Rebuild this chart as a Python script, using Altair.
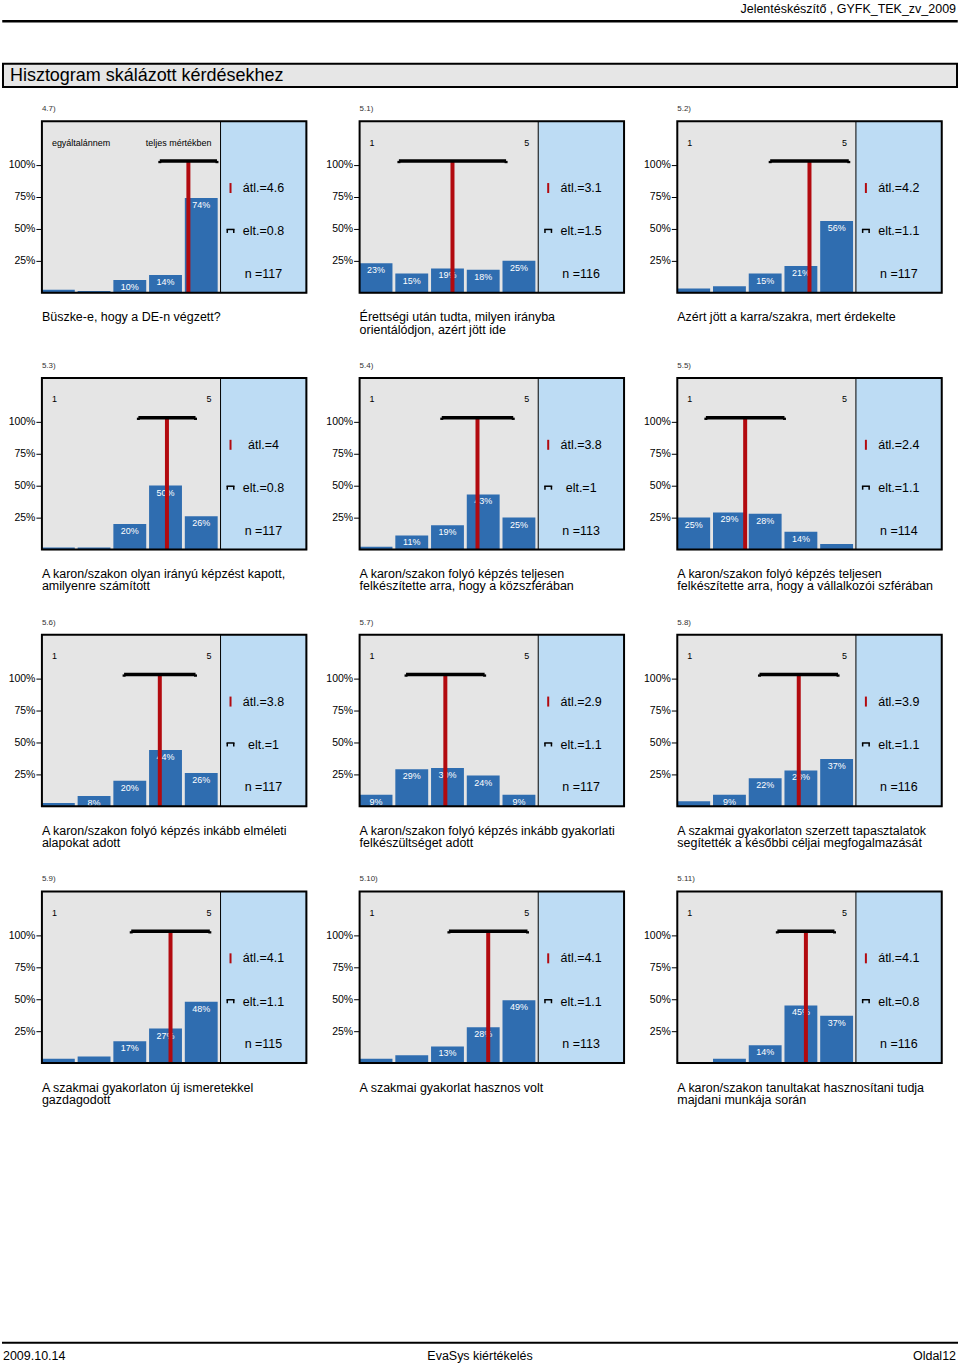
import altair as alt
import pandas as pd

# ---------------- data ----------------
panel_ids = ["4.7)", "5.1)", "5.2)", "5.3)", "5.4)", "5.5)",
             "5.6)", "5.7)", "5.8)", "5.9)", "5.10)", "5.11)"]
questions = [
    "Büszke-e, hogy a DE-n végzett?",
    "Érettségi után tudta, milyen irányba\norientálódjon, azért jött ide",
    "Azért jött a karra/szakra, mert érdekelte",
    "A karon/szakon olyan irányú képzést kapott,\namilyenre számított",
    "A karon/szakon folyó képzés teljesen\nfelkészítette arra, hogy a közszférában",
    "A karon/szakon folyó képzés teljesen\nfelkészítette arra, hogy a vállalkozói szférában",
    "A karon/szakon folyó képzés inkább elméleti\nalapokat adott",
    "A karon/szakon folyó képzés inkább gyakorlati\nfelkészültséget adott",
    "A szakmai gyakorlaton szerzett tapasztalatok\nsegítették a későbbi céljai megfogalmazását",
    "A szakmai gyakorlaton új ismeretekkel\ngazdagodott",
    "A szakmai gyakorlat hasznos volt",
    "A karon/szakon tanultakat hasznosítani tudja\nmajdani munkája során",
]
left_labels = ["egyáltalánnem"] + ["1"] * 11
right_labels = ["teljes mértékben"] + ["5"] * 11
categories = [1, 2, 3, 4, 5]
distributions = [  # percent per answer category
    [2.3, 1.5, 10, 14, 74],
    [23, 15, 19, 18, 25],
    [3.4, 5.1, 15, 21, 56],
    [1.7, 1.7, 20, 50, 26],
    [2.3, 11, 19, 43, 25],
    [25, 29, 28, 14, 4.4],
    [2.6, 8, 20, 44, 26],
    [9, 29, 30, 24, 9],
    [3.9, 9, 22, 28, 37],
    [3.5, 5.2, 17, 27, 48],
    [3.5, 6.2, 13, 28, 49],
    [0.9, 3.4, 14, 45, 37],
]
means = [4.6, 3.1, 4.2, 4, 3.8, 2.4, 3.8, 2.9, 3.9, 4.1, 4.1, 4.1]
sds = [0.8, 1.5, 1.1, 0.8, 1, 1.1, 1, 1.1, 1.1, 1.1, 1.1, 0.8]
ns = [117, 116, 117, 117, 113, 114, 117, 117, 116, 115, 113, 116]

header_text = "Jelentéskészítő , GYFK_TEK_zv_2009"
page_title = "Hisztogram skálázott kérdésekhez"
footer_left = "2009.10.14"
footer_center = "EvaSys kiértékelés"
footer_right = "Oldal12"

# ---------------- styles / layout ----------------
FONT = "Liberation Sans"
GREY = "#e5e5e5"
LIGHTBLUE = "#bddcf4"
BAR = "#2f6db0"
RED = "#b20a0f"

W, H = 265, 172
UNIT = 35.8
X_MIN, X_SPLIT = 0.5, 5.5
X_MAX = X_MIN + W / UNIT
Y_MAX = 1.34
BRACKET_Y = 1.03
HOOK_Y = 1.012
BAR_RIGHT = 0.42

xs = alt.Scale(domain=[X_MIN, X_MAX], nice=False, zero=False)
ys = alt.Scale(domain=[0, Y_MAX], nice=False, zero=False)
yaxis = alt.Axis(values=[0.25, 0.5, 0.75, 1.0], format=".0%", tickSize=6,
                 tickColor="black", tickWidth=1, labelFontSize=10.5,
                 labelColor="black", labelPadding=1, domain=False, grid=False,
                 labelFont=FONT, title=None)


def page_layers(base):
    # page decorations drawn relative to first panel's plot origin (41, 119.5)
    return [
        base.mark_rect(fillOpacity=0, strokeOpacity=0).encode(
            x=alt.value(-41), x2=alt.value(919), y=alt.value(-119.5), y2=alt.value(1248.5)),
        base.mark_text(text=header_text, align="right", baseline="middle",
                       fontSize=12.5, font=FONT, color="black").encode(
            x=alt.value(916), y=alt.value(-112)),
        base.mark_rule(color="black", strokeWidth=2.5).encode(
            x=alt.value(-39.75), x2=alt.value(917.75), y=alt.value(-100.2)),
        base.mark_rect(fill="#e6e6e6", stroke="black", strokeWidth=2).encode(
            x=alt.value(-39), x2=alt.value(917), y=alt.value(-57.5), y2=alt.value(-34.2)),
        base.mark_text(text=page_title, align="left", baseline="middle",
                       fontSize=18, font=FONT, color="black").encode(
            x=alt.value(-32), y=alt.value(-45.5)),
        base.mark_rule(color="black", strokeWidth=2).encode(
            x=alt.value(-40), x2=alt.value(918), y=alt.value(1224)),
        base.mark_text(text=footer_left, align="left", baseline="middle",
                       fontSize=12.5, font=FONT, color="black").encode(
            x=alt.value(-39), y=alt.value(1237.5)),
        base.mark_text(text=footer_center, align="center", baseline="middle",
                       fontSize=12.5, font=FONT, color="black").encode(
            x=alt.value(439), y=alt.value(1237.5)),
        base.mark_text(text=footer_right, align="right", baseline="middle",
                       fontSize=12.5, font=FONT, color="black").encode(
            x=alt.value(916), y=alt.value(1237.5)),
    ]


def panel(i):
    bars = pd.DataFrame({"cat": categories, "pct": [v / 100 for v in distributions[i]]})
    stat = pd.DataFrame({"mean": [means[i]], "sd": [sds[i]], "n": [ns[i]],
                         "left": [left_labels[i]], "right": [right_labels[i]],
                         "pid": [panel_ids[i]], "q": [questions[i]]})
    base = alt.Chart(stat)
    bbase = alt.Chart(bars)

    def yd(v):
        return alt.YDatum(v, type="quantitative", scale=ys, axis=yaxis, title=None)

    grey = base.mark_rect(color=GREY).encode(
        x=alt.XDatum(X_MIN, type="quantitative", scale=xs, axis=None),
        x2=alt.X2Datum(X_SPLIT), y=yd(0), y2=alt.Y2Datum(Y_MAX))
    blue = base.mark_rect(color=LIGHTBLUE).encode(
        x=alt.XDatum(X_SPLIT, type="quantitative", scale=xs, axis=None),
        x2=alt.X2Datum(X_MAX), y=yd(0), y2=alt.Y2Datum(Y_MAX))

    bar_layer = bbase.transform_calculate(
        x0="datum.cat - 0.5", x1=f"datum.cat + {BAR_RIGHT}"
    ).mark_rect(color=BAR).encode(
        x=alt.X("x0:Q", scale=xs, axis=None), x2="x1:Q",
        y=alt.Y("pct:Q", scale=ys, axis=yaxis, title=None), y2=alt.Y2Datum(0))

    labels = bbase.transform_filter("datum.pct >= 0.075").transform_calculate(
        xc=f"datum.cat - 0.5 + {(0.5 + BAR_RIGHT) / 2}"
    ).mark_text(color="white", fontSize=9, font=FONT, baseline="middle", dy=7).encode(
        x=alt.X("xc:Q", scale=xs, axis=None),
        y=alt.Y("pct:Q", scale=ys, axis=yaxis, title=None),
        text=alt.Text("pct:Q", format=".0%"))

    mean_line = base.mark_rule(color=RED, strokeWidth=4).encode(
        x=alt.X("mean:Q", scale=xs, axis=None),
        y=yd(0), y2=alt.Y2Datum(BRACKET_Y))

    sd_base = base.transform_calculate(lo="datum.mean - datum.sd", hi="datum.mean + datum.sd")
    bracket = sd_base.mark_rule(color="black", strokeWidth=3.5).encode(
        x=alt.X("lo:Q", scale=xs, axis=None), x2="hi:Q", y=yd(BRACKET_Y))
    hook_l = sd_base.mark_rule(color="black", strokeWidth=3).encode(
        x=alt.X("lo:Q", scale=xs, axis=None), y=yd(BRACKET_Y), y2=alt.Y2Datum(HOOK_Y))
    hook_r = sd_base.mark_rule(color="black", strokeWidth=3).encode(
        x=alt.X("hi:Q", scale=xs, axis=None), y=yd(BRACKET_Y), y2=alt.Y2Datum(HOOK_Y))

    divider = base.mark_rule(color="black", strokeWidth=1).encode(
        x=alt.XDatum(X_SPLIT, type="quantitative", scale=xs, axis=None),
        y=alt.value(0), y2=alt.value(H))

    top_left = base.mark_text(align="left", baseline="middle", fontSize=9,
                              font=FONT, color="black").encode(
        x=alt.value(10), y=alt.value(21.5), text="left:N")
    top_right = base.mark_text(align="right", baseline="middle", fontSize=9,
                               font=FONT, color="black").encode(
        x=alt.value(170), y=alt.value(21.5), text="right:N")

    mean_mark = base.mark_rule(color=RED, strokeWidth=2).encode(
        x=alt.value(189), y=alt.value(62), y2=alt.value(72))
    mean_text = base.transform_calculate(t="'átl.=' + datum.mean").mark_text(
        align="center", baseline="middle", fontSize=12.5, font=FONT, color="black").encode(
        x=alt.value(222), y=alt.value(67), text="t:N")

    sd_g1 = base.mark_rule(color="black", strokeWidth=1.5).encode(
        x=alt.value(185), x2=alt.value(193), y=alt.value(108.5))
    sd_g2 = base.mark_rule(color="black", strokeWidth=1.5).encode(
        x=alt.value(185.75), y=alt.value(108.5), y2=alt.value(112))
    sd_g3 = base.mark_rule(color="black", strokeWidth=1.5).encode(
        x=alt.value(192.25), y=alt.value(108.5), y2=alt.value(112))
    sd_text = base.transform_calculate(t="'elt.=' + datum.sd").mark_text(
        align="center", baseline="middle", fontSize=12.5, font=FONT, color="black").encode(
        x=alt.value(222), y=alt.value(110.5), text="t:N")
    n_text = base.transform_calculate(t="'n =' + datum.n").mark_text(
        align="center", baseline="middle", fontSize=12.5, font=FONT, color="black").encode(
        x=alt.value(222), y=alt.value(153), text="t:N")

    pid_text = base.mark_text(align="left", baseline="middle", fontSize=8,
                              font=FONT, color="#333333").encode(
        x=alt.value(0), y=alt.value(-12), text="pid:N")
    q_text = base.mark_text(align="left", baseline="alphabetic", fontSize=12.5,
                            font=FONT, color="black", lineBreak="\n", lineHeight=12.3).encode(
        x=alt.value(0), y=alt.value(200.5), text="q:N")

    frame = base.mark_rect(fillOpacity=0, stroke="black", strokeWidth=2).encode(
        x=alt.value(0), x2=alt.value(W), y=alt.value(0), y2=alt.value(H))

    layers = []
    if i == 0:
        layers += page_layers(base)
    layers += [grey, blue, bar_layer, labels, mean_line, bracket, hook_l, hook_r,
               divider, top_left, top_right, mean_mark, mean_text,
               sd_g1, sd_g2, sd_g3, sd_text, n_text, pid_text, q_text, frame]
    return alt.layer(*layers).properties(width=W, height=H)


panels = [panel(i) for i in range(len(panel_ids))]

chart = alt.concat(
    *panels, columns=3, spacing={"row": 85.3, "column": 53.35}, bounds="flush"
).properties(padding=0, background="white").configure_view(strokeWidth=0).configure(font=FONT)

chart.save("out.html", embed_options={"renderer": "svg", "actions": False})
